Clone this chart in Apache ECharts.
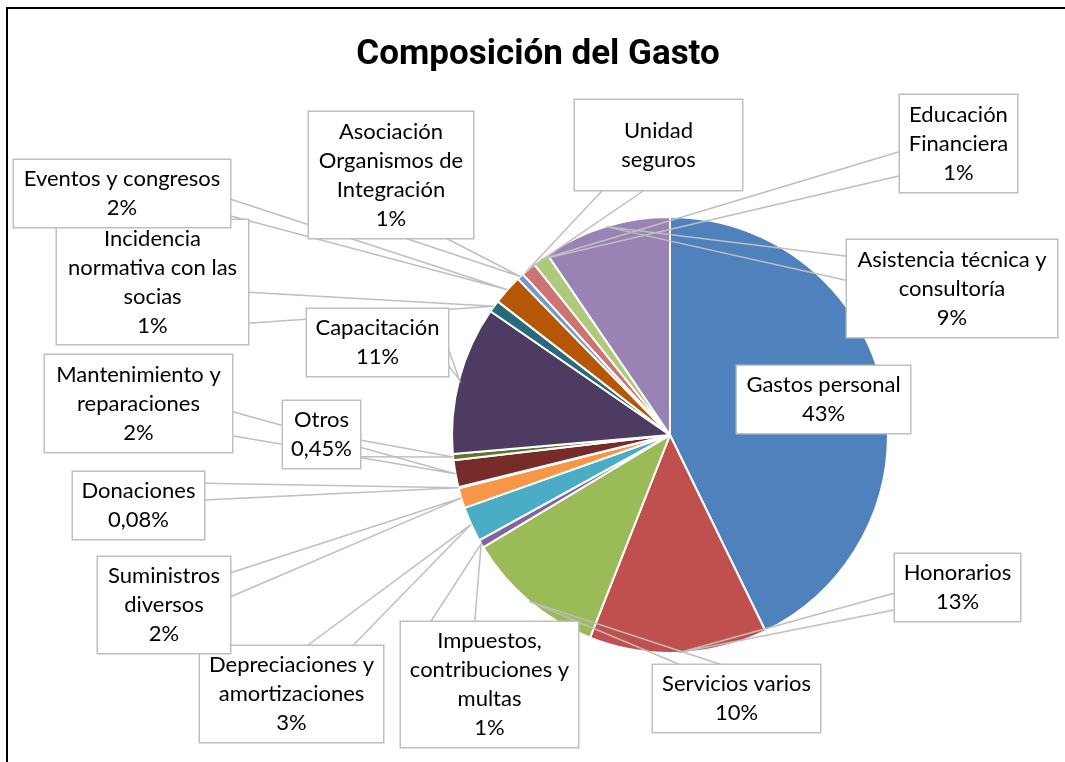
<!DOCTYPE html>
<html>
<head>
<meta charset="utf-8">
<script src="https://cdn.jsdelivr.net/npm/echarts@6/dist/echarts.min.js"></script>
<style>
html, body { margin: 0; padding: 0; background: #ffffff; }
#chart { width: 1065px; height: 762px; }
</style>
</head>
<body>
<div id="chart"></div>
<script>
// ---- data ----
const categories = [
  'Gastos personal', 'Honorarios', 'Servicios varios', 'Impuestos, contribuciones y multas',
  'Depreciaciones y amortizaciones', 'Suministros diversos', 'Donaciones', 'Mantenimiento y reparaciones',
  'Otros', 'Capacitación', 'Incidencia normativa con las socias', 'Eventos y congresos',
  'Asociación Organismos de Integración', 'Unidad seguros', 'Educación Financiera', 'Asistencia técnica y consultoría'
];
const values = [42.8, 13.2, 10.4, 0.6, 2.6, 1.5, 0.08, 2.0, 0.45, 11.0, 0.9, 2.2, 0.5, 1.1, 1.2, 9.5];
const labelTexts = [
  'Gastos personal', 'Honorarios', 'Servicios varios', 'Impuestos,\ncontribuciones y\nmultas',
  'Depreciaciones y\namortizaciones', 'Suministros\ndiversos', 'Donaciones', 'Mantenimiento y\nreparaciones',
  'Otros', 'Capacitación', 'Incidencia\nnormativa con las\nsocias', 'Eventos y congresos',
  'Asociación\nOrganismos de\nIntegración', 'Unidad\nseguros', 'Educación\nFinanciera', 'Asistencia técnica y\nconsultoría'
];
const percentLabels = ['43%', '13%', '10%', '1%', '3%', '2%', '0,08%', '2%', '0,45%', '11%', '1%', '2%', '1%', '', '1%', '9%'];
const colors = [
  '#4F81BD', '#C0504D', '#9BBB59', '#8064A2', '#4BACC6', '#F79646', '#2C4D75', '#772C2A',
  '#5F7530', '#4D3B62', '#276A7C', '#B65708', '#729ACA', '#CD7371', '#AFC97A', '#9983B5'
];
const titleText = 'Composición del Gasto';

// ---- layout (label boxes: left, top, width, height in px) ----
const labelBoxes = [
  [737, 366, 173, 67], [895, 554, 125, 67], [653, 665, 167, 67], [401, 622, 177, 125],
  [200, 646, 183, 96], [98, 557, 132, 96], [73, 472, 131, 67], [45, 355, 187, 97],
  [283, 401, 77, 67], [307, 309, 141, 67], [57, 220, 191, 124], [14, 160, 216, 67],
  [309, 112, 164, 126], [575, 100, 167, 90], [900, 95, 117, 97], [847, 240, 210, 97]
];
const PIE_CX = 670, PIE_CY = 435, PIE_R = 218;
const LINE_H = 29;
const GRAY = '#BFBFBF';

function calloutTail(b, tip) {
  const x = b[0], y = b[1], w = b[2], h = b[3];
  const dx = tip[0] - (x + w / 2), dy = tip[1] - (y + h / 2);
  const dq = dx * h / w;
  if (Math.abs(dy) > Math.abs(dq)) {
    const ey = dy > 0 ? y + h : y;
    const f = dx > 0 ? [7 / 12, 10 / 12] : [2 / 12, 5 / 12];
    return [[x + w * f[0], ey], tip, [x + w * f[1], ey]];
  }
  const ex = dx > 0 ? x + w : x;
  const f = dy > 0 ? [7 / 12, 10 / 12] : [2 / 12, 5 / 12];
  return [[ex, y + h * f[0]], tip, [ex, y + h * f[1]]];
}

// slices (drawn first)
const sliceData = categories.map(function (name, i) {
  return { name: name, value: values[i], itemStyle: { color: colors[i] } };
});

// label callouts (drawn on top, same geometry, transparent sectors)
const labelData = categories.map(function (name, i) {
  const text = percentLabels[i] ? labelTexts[i] + '\n' + percentLabels[i] : labelTexts[i];
  const n = text.split('\n').length;
  const b = labelBoxes[i];
  const padV = (b[3] - n * LINE_H) / 2;
  const inside = Math.hypot(b[0] + b[2] / 2 - PIE_CX, b[1] + b[3] / 2 - PIE_CY) < PIE_R;
  return {
    name: name,
    value: values[i],
    label: { formatter: text, width: b[2], padding: [padV, 0, padV, 0] },
    labelLine: { show: !inside }
  };
});

const chart = echarts.init(document.getElementById('chart'), null, { renderer: 'canvas' });
chart.setOption({
  animation: false,
  backgroundColor: '#ffffff',
  graphic: [
    {
      type: 'rect', silent: true, z: -10,
      shape: { x: 7, y: 8, width: 1100, height: 800 },
      style: { fill: '#ffffff', stroke: '#000000', lineWidth: 2 }
    },
    {
      type: 'text', silent: true, z: 10,
      x: 538, y: 55,
      style: {
        text: titleText,
        font: 'bold 35px "Roboto", sans-serif',
        fill: '#000000', align: 'center', verticalAlign: 'middle'
      }
    }
  ],
  series: [
    {
      type: 'pie',
      z: 2,
      center: [PIE_CX, PIE_CY],
      radius: PIE_R,
      startAngle: 90,
      clockwise: true,
      silent: true,
      itemStyle: { borderColor: '#ffffff', borderWidth: 2 },
      label: { show: false },
      labelLine: { show: false },
      data: sliceData
    },
    {
      type: 'pie',
      z: 5,
      center: [PIE_CX, PIE_CY],
      radius: PIE_R,
      startAngle: 90,
      clockwise: true,
      avoidLabelOverlap: false,
      silent: true,
      itemStyle: { color: 'rgba(0,0,0,0)', borderWidth: 0 },
      label: {
        show: true,
        position: 'outside',
        fontFamily: 'Lato, "Liberation Sans", sans-serif',
        fontSize: 22,
        lineHeight: LINE_H,
        color: '#000000',
        align: 'center',
        overflow: 'none',
        backgroundColor: '#ffffff',
        borderColor: GRAY,
        borderWidth: 1.5
      },
      labelLine: {
        show: true,
        showAbove: true,
        smooth: false,
        lineStyle: { color: GRAY, width: 1.5 }
      },
      labelLayout: function (params) {
        const i = params.dataIndex;
        const b = labelBoxes[i];
        const res = {
          x: b[0] + b[2] / 2,
          y: b[1] + b[3] / 2,
          align: 'center',
          verticalAlign: 'middle'
        };
        const pts = params.labelLinePoints;
        if (pts && pts.length) {
          res.labelLinePoints = calloutTail(b, pts[0]);
        }
        return res;
      },
      data: labelData
    }
  ]
});
</script>
</body>
</html>
